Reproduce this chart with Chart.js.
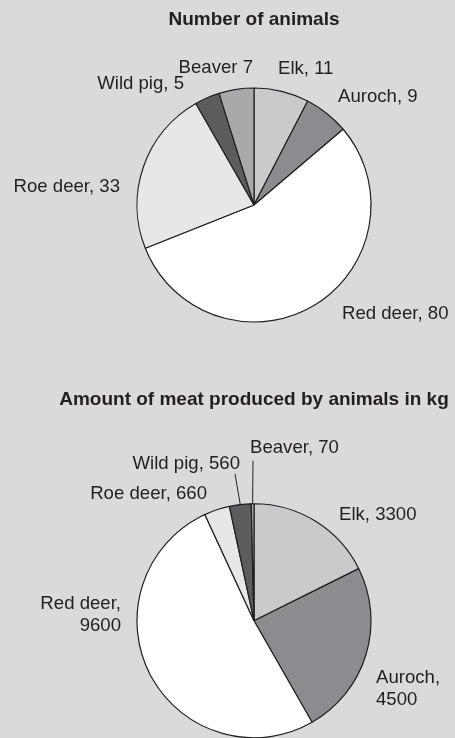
<!DOCTYPE html>
<html>
<head>
<meta charset="utf-8">
<script src="https://cdn.jsdelivr.net/npm/chart.js@4/dist/chart.umd.min.js"></script>
<style>
  html, body { margin: 0; padding: 0; background: #dadada; }
  .box { position: relative; width: 455px; height: 369px; }
</style>
</head>
<body>
<div class="box"><canvas id="countChart"></canvas></div>
<div class="box"><canvas id="meatChart"></canvas></div>
<script>
// Data
const animals = ["Elk", "Auroch", "Red deer", "Roe deer", "Wild pig", "Beaver"]
const animalCounts = [11, 9, 80, 33, 5, 7]
const meatKg = [3300, 4500, 9600, 660, 560, 70]

const sliceColors = ["#c9cacc", "#8b8c8f", "#ffffff", "#e6e7e9", "#5c5c5e", "#a8a9ab"]
const ink = "#231f20"

// label text, built from the data
const countLabels = animals.map((a, i) => [a + (a === "Beaver" ? " " : ", ") + animalCounts[i]])
const meatLabels = animals.map((a, i) => (a === "Red deer" || a === "Auroch")
  ? [a + ",", String(meatKg[i])]
  : [a + ", " + meatKg[i]])

// where labels sit, relative to the pie centre (text baseline)
const countPlaces = [
  { dx: 24, dy: -131, align: "left" },
  { dx: 84, dy: -103, align: "left" },
  { dx: 88, dy: 114, align: "left" },
  { dx: -134, dy: -13, align: "right" },
  { dx: -70, dy: -116, align: "right" },
  { dx: -1, dy: -132, align: "right" },
]
const meatPlaces = [
  { dx: 85, dy: -101, align: "left" },
  { dx: 122, dy: 62, align: "left" },
  { dx: -133, dy: -12, align: "right" },
  { dx: -47, dy: -122, align: "right" },
  { dx: -14, dy: -152, align: "right", lead: [-19, -147] },
  { dx: -4, dy: -168, align: "left", lead: [-1, -160] },
]

const pieLabels = {
  id: "pieLabels",
  afterDraw(chart, args, opts) {
    const ctx = chart.ctx
    const arcs = chart.getDatasetMeta(0).data
    const cx = arcs[0].x, cy = arcs[0].y
    ctx.save()
    ctx.fillStyle = ink
    ctx.strokeStyle = ink
    ctx.lineWidth = 1
    ctx.textBaseline = "alphabetic"
    ctx.font = 'bold 19px "Liberation Sans", Arial, sans-serif'
    ctx.textAlign = "center"
    ctx.fillText(opts.title, cx, opts.titleY)
    ctx.font = '18.6px "Liberation Sans", Arial, sans-serif'
    opts.places.forEach((p, i) => {
      ctx.textAlign = p.align
      opts.text[i].forEach((line, j) => ctx.fillText(line, cx + p.dx, cy + p.dy + j * 22))
      if (p.lead) {
        const a = arcs[i]
        const mid = (a.startAngle + a.endAngle) / 2
        const r = a.outerRadius
        ctx.beginPath()
        ctx.moveTo(cx + p.lead[0], cy + p.lead[1])
        ctx.lineTo(cx + Math.cos(mid) * r, cy + Math.sin(mid) * r)
        ctx.stroke()
      }
    })
    ctx.restore()
  }
}

function pieConfig(values, padding, labelOpts) {
  return {
    type: "pie",
    data: {
      labels: animals,
      datasets: [{
        data: values,
        backgroundColor: sliceColors,
        borderColor: ink,
        borderWidth: 1.2,
      }]
    },
    options: {
      responsive: true,
      maintainAspectRatio: false,
      animation: false,
      radius: 117,
      layout: { padding: padding },
      plugins: {
        legend: { display: false },
        tooltip: { enabled: false },
        pieLabels: labelOpts
      }
    },
    plugins: [pieLabels]
  }
}

new Chart(document.querySelector("#countChart").getContext("2d"),
  pieConfig(animalCounts, { left: 136.5, right: 83.5, top: 87.5, bottom: 46.5 },
    { title: "Number of animals", titleY: 25, text: countLabels, places: countPlaces }))

new Chart(document.querySelector("#meatChart").getContext("2d"),
  pieConfig(meatKg, { left: 136.5, right: 83.5, top: 134.5, bottom: 0 },
    { title: "Amount of meat produced by animals in kg", titleY: 36, text: meatLabels, places: meatPlaces }))
</script>
</body>
</html>
